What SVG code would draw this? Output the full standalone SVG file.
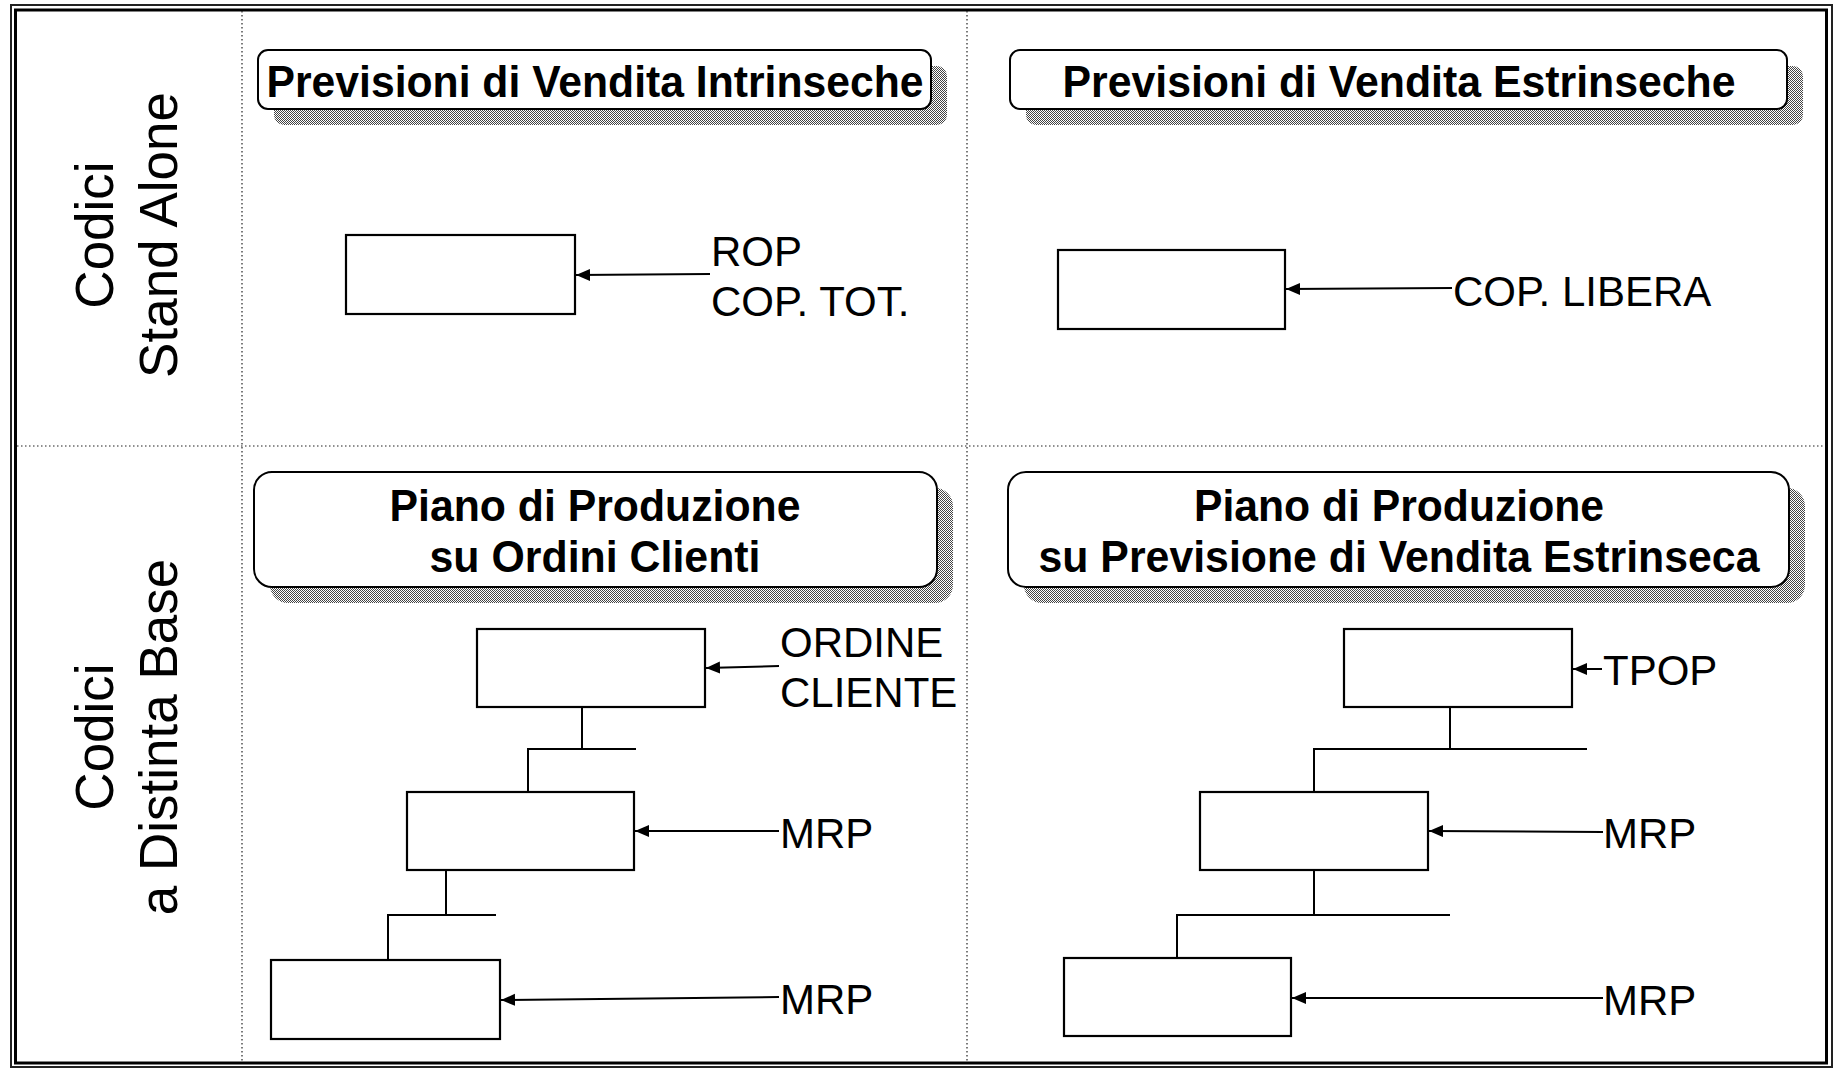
<svg xmlns="http://www.w3.org/2000/svg" width="1835" height="1069" viewBox="0 0 1835 1069">
<style>
text{font-family:"Liberation Sans",Arial,sans-serif;fill:#000}
.t{font-size:44px;font-weight:bold;text-anchor:middle}
.lbl{font-size:42px}
.side{font-size:53px;text-anchor:middle}
.box{fill:#fff;stroke:#000;stroke-width:2.2}
.title{fill:#fff;stroke:#000;stroke-width:2}
.shadow{fill:url(#dither)}
.div{stroke:#222;stroke-width:1.2;stroke-dasharray:1.5 2.5;fill:none}
.con{stroke:#000;stroke-width:2;fill:none}
.arr{stroke:#000;stroke-width:2;fill:none;marker-end:url(#ah)}
</style>
<defs>
<pattern id="dither" width="2" height="2" patternUnits="userSpaceOnUse">
<rect width="2" height="2" fill="#fff"/>
<rect width="1" height="1" fill="#444"/>
<rect x="1" y="1" width="1" height="1" fill="#444"/>
</pattern>
<marker id="ah" markerUnits="userSpaceOnUse" markerWidth="16" markerHeight="14" refX="14" refY="6" orient="auto">
<path d="M0,0 L14,6 L0,12 z" fill="#000"/>
</marker>
</defs>
<rect width="1835" height="1069" fill="#fff"/>
<g id="frame">
<rect x="11" y="5" width="1821" height="1062" fill="none" stroke="#222" stroke-width="2"/>
<rect x="15.5" y="10" width="1811" height="1053" fill="none" stroke="#000" stroke-width="3"/>
<line class="div" x1="242" y1="11" x2="242" y2="1062"/>
<line class="div" x1="967" y1="11" x2="967" y2="1062"/>
<line class="div" x1="17" y1="446" x2="1825" y2="446"/>
</g>
<g id="label-stand-alone">
<text class="side" transform="translate(113,235) rotate(-90)">Codici</text>
<text class="side" transform="translate(177,235) rotate(-90)">Stand Alone</text>
</g>
<g id="label-distinta-base">
<text class="side" transform="translate(113,737) rotate(-90)">Codici</text>
<text class="side" transform="translate(177,737) rotate(-90)">a Distinta Base</text>
</g>
<g id="title-intrinseche">
<rect class="shadow" x="274" y="66" width="673" height="59" rx="10"/>
<rect class="title" x="258" y="50" width="673" height="59" rx="10"/>
<text class="t" x="595" y="97" textLength="657" lengthAdjust="spacingAndGlyphs">Previsioni di Vendita Intrinseche</text>
</g>
<g id="title-estrinseche">
<rect class="shadow" x="1026" y="66" width="777" height="59" rx="10"/>
<rect class="title" x="1010" y="50" width="777" height="59" rx="10"/>
<text class="t" x="1399" y="97" textLength="673" lengthAdjust="spacingAndGlyphs">Previsioni di Vendita Estrinseche</text>
</g>
<g id="title-ordini">
<rect class="shadow" x="270" y="488" width="683" height="115" rx="18"/>
<rect class="title" x="254" y="472" width="683" height="115" rx="18"/>
<text class="t" x="595" y="521" textLength="411" lengthAdjust="spacingAndGlyphs">Piano di Produzione</text>
<text class="t" x="595" y="572" textLength="331" lengthAdjust="spacingAndGlyphs">su Ordini Clienti</text>
</g>
<g id="title-previsione">
<rect class="shadow" x="1024" y="488" width="781" height="115" rx="18"/>
<rect class="title" x="1008" y="472" width="781" height="115" rx="18"/>
<text class="t" x="1399" y="521" textLength="410" lengthAdjust="spacingAndGlyphs">Piano di Produzione</text>
<text class="t" x="1399" y="572" textLength="721" lengthAdjust="spacingAndGlyphs">su Previsione di Vendita Estrinseca</text>
</g>
<g id="node-rop">
<rect class="box" x="346" y="235" width="229" height="79"/>
<text class="lbl" x="711" y="266">ROP</text>
<text class="lbl" x="711" y="316">COP. TOT.</text>
</g>
<g id="node-cop-libera">
<rect class="box" x="1058" y="250" width="227" height="79"/>
<text class="lbl" x="1453" y="306">COP. LIBERA</text>
</g>
<g id="node-ordine">
<rect class="box" x="477" y="629" width="228" height="78"/>
<text class="lbl" x="780" y="657">ORDINE</text>
<text class="lbl" x="780" y="707">CLIENTE</text>
</g>
<g id="node-left-mrp1">
<rect class="box" x="407" y="792" width="227" height="78"/>
<text class="lbl" x="780" y="848">MRP</text>
</g>
<g id="node-left-mrp2">
<rect class="box" x="271" y="960" width="229" height="79"/>
<text class="lbl" x="780" y="1014">MRP</text>
</g>
<g id="node-tpop">
<rect class="box" x="1344" y="629" width="228" height="78"/>
<text class="lbl" x="1603" y="685">TPOP</text>
</g>
<g id="node-right-mrp1">
<rect class="box" x="1200" y="792" width="228" height="78"/>
<text class="lbl" x="1603" y="848">MRP</text>
</g>
<g id="node-right-mrp2">
<rect class="box" x="1064" y="958" width="227" height="78"/>
<text class="lbl" x="1603" y="1015">MRP</text>
</g>
<g id="connectors">
<line class="arr" x1="710" y1="274" x2="576" y2="275"/>
<line class="arr" x1="1452" y1="288" x2="1286" y2="289"/>
<line class="arr" x1="779" y1="666" x2="706" y2="668"/>
<line class="arr" x1="779" y1="831" x2="635" y2="831"/>
<line class="arr" x1="779" y1="997" x2="501" y2="1000"/>
<line class="arr" x1="1602" y1="669" x2="1573" y2="669"/>
<line class="arr" x1="1603" y1="832" x2="1429" y2="831"/>
<line class="arr" x1="1603" y1="998" x2="1292" y2="998"/>
<polyline class="con" points="582,707 582,749"/>
<polyline class="con" points="528,792 528,749 636,749"/>
<polyline class="con" points="446,870 446,915"/>
<polyline class="con" points="388,960 388,915 496,915"/>
<polyline class="con" points="1450,707 1450,749"/>
<polyline class="con" points="1314,792 1314,749 1587,749"/>
<polyline class="con" points="1314,870 1314,915"/>
<polyline class="con" points="1177,958 1177,915 1450,915"/>
</g>
</svg>
